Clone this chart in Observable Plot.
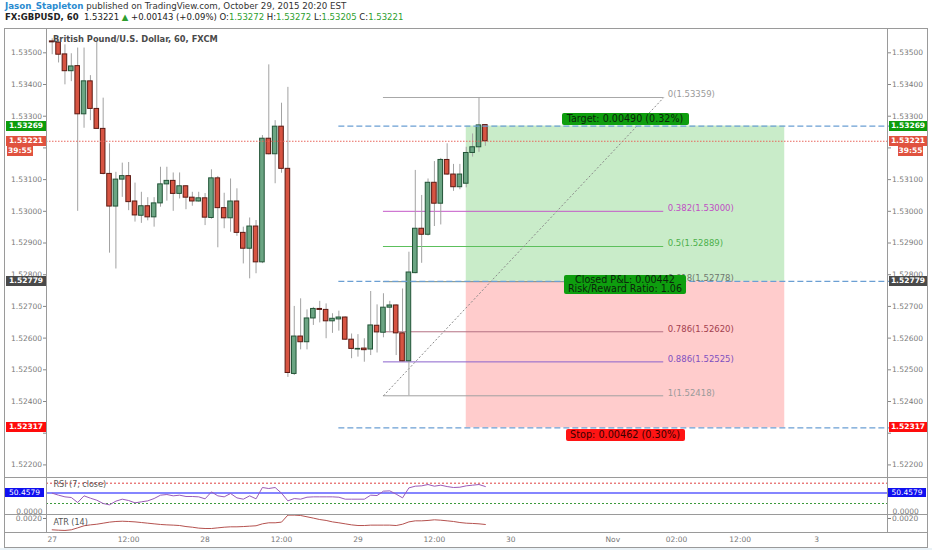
<!DOCTYPE html>
<html><head><meta charset="utf-8">
<script src="https://cdn.jsdelivr.net/npm/d3@7"></script>
<script src="https://cdn.jsdelivr.net/npm/@observablehq/plot@0.6"></script>
<style>
body{margin:0;background:#fff;font-family:"DejaVu Sans",sans-serif;}
#wrap{position:relative;width:932px;height:550px;overflow:hidden;background:#fff;}
.abs{position:absolute;white-space:nowrap;}
.hl{position:absolute;height:1px;background:#9a9a9a;}
.vl{position:absolute;width:1px;background:#9a9a9a;}
.box{position:absolute;white-space:nowrap;text-align:center;box-sizing:border-box;overflow:hidden;}
svg{position:absolute;left:0;}
</style></head><body><div id="wrap"></div>
<script>
// ---------- DATA ----------
const candleOpen  = [1.53536,1.53532,1.53495,1.53442,1.53458,1.53306,1.53410,1.53323,1.53260,1.53118,1.53015,1.53100,1.53111,1.53031,1.52986,1.53016,1.52981,1.53025,1.53085,1.53096,1.53055,1.53079,1.53043,1.53031,1.53041,1.52979,1.53104,1.53010,1.52978,1.53031,1.52932,1.52882,1.52952,1.52839,1.53229,1.53180,1.53267,1.53134,1.52487,1.52605,1.52587,1.52662,1.52692,1.52689,1.52653,1.52659,1.52665,1.52595,1.52564,1.52567,1.52564,1.52639,1.52617,1.52696,1.52703,1.52615,1.52527,1.52805,1.52945,1.52926,1.53090,1.53024,1.53162,1.53116,1.53076,1.53087,1.53184,1.53202,1.53272];
const candleHigh  = [1.53544,1.53536,1.53525,1.53497,1.53515,1.53515,1.53428,1.53533,1.53357,1.53213,1.53123,1.53152,1.53154,1.53089,1.53060,1.53043,1.53043,1.53139,1.53139,1.53121,1.53121,1.53081,1.53060,1.53060,1.53056,1.53131,1.53110,1.53057,1.53102,1.53071,1.52950,1.52979,1.52971,1.53239,1.53462,1.53286,1.53341,1.53391,1.52700,1.52724,1.52689,1.52697,1.52716,1.52708,1.52677,1.52685,1.52667,1.52613,1.52611,1.52598,1.52747,1.52705,1.52740,1.52716,1.52705,1.52755,1.52871,1.53129,1.53050,1.53102,1.53157,1.53167,1.53213,1.53148,1.53148,1.53202,1.53244,1.53359,1.53272];
const candleLow   = [1.53494,1.53468,1.53399,1.53409,1.53000,1.53262,1.53286,1.53260,1.53115,1.52868,1.52818,1.53044,1.53002,1.52966,1.52962,1.52970,1.52950,1.53013,1.53032,1.53000,1.53039,1.53005,1.53016,1.53029,1.52955,1.52975,1.52885,1.52945,1.52934,1.52921,1.52834,1.52787,1.52803,1.52835,1.53178,1.53087,1.53120,1.52476,1.52482,1.52563,1.52563,1.52640,1.52648,1.52598,1.52615,1.52622,1.52593,1.52535,1.52540,1.52524,1.52545,1.52553,1.52601,1.52617,1.52545,1.52525,1.52418,1.52803,1.52836,1.52922,1.52952,1.52957,1.53113,1.53063,1.53068,1.53074,1.53171,1.53186,1.53205];
const candleClose = [1.53533,1.53494,1.53442,1.53457,1.53306,1.53410,1.53323,1.53260,1.53118,1.53015,1.53100,1.53111,1.53029,1.52987,1.53016,1.52981,1.53025,1.53085,1.53096,1.53055,1.53079,1.53043,1.53031,1.53041,1.52980,1.53104,1.53010,1.52978,1.53031,1.52932,1.52882,1.52952,1.52839,1.53229,1.53180,1.53267,1.53134,1.52490,1.52605,1.52587,1.52662,1.52692,1.52689,1.52653,1.52661,1.52665,1.52595,1.52566,1.52566,1.52562,1.52640,1.52618,1.52696,1.52703,1.52615,1.52527,1.52807,1.52945,1.52926,1.53090,1.53024,1.53162,1.53116,1.53076,1.53116,1.53184,1.53202,1.53271,1.53221];
const rsiValues = [50.3,46.4,43.1,41.8,32.0,45.1,40.5,36.5,30.0,27.4,34.6,38.5,35.9,31.3,33.3,35.2,39.8,46.4,47.7,45.1,46.4,43.8,43.8,43.1,39.2,52.9,45.1,43.1,49.7,41.1,38.5,45.1,39.2,61.5,59.5,61.5,50.3,35.2,39.8,38.5,42.4,43.1,43.1,43.1,43.1,42.4,38.5,38.5,38.5,38.5,46.4,45.7,54.3,54.9,48.4,41.1,60.8,64.1,64.8,67.4,64.1,66.1,63.4,61.5,62.1,64.8,66.1,67.4,63.4];
const atrValues = [0.00113,0.00110,0.00108,0.00113,0.00128,0.00144,0.00151,0.00156,0.00164,0.00172,0.00177,0.00179,0.00177,0.00174,0.00169,0.00164,0.00159,0.00154,0.00151,0.00149,0.00146,0.00138,0.00133,0.00126,0.00123,0.00123,0.00128,0.00133,0.00136,0.00136,0.00138,0.00141,0.00144,0.00159,0.00167,0.00167,0.00172,0.00226,0.00226,0.00223,0.00213,0.00203,0.00192,0.00185,0.00174,0.00167,0.00159,0.00151,0.00146,0.00146,0.00149,0.00149,0.00149,0.00149,0.00146,0.00156,0.00174,0.00182,0.00182,0.00185,0.00190,0.00187,0.00182,0.00177,0.00169,0.00164,0.00162,0.00159,0.00154];
const xTickPos    = [0,12,24,36,48,60,72,88,98,108,120];
const xTickLabels = ["27","12:00","28","12:00","29","12:00","30","Nov","02:00","12:00","3"];
const priceTicks  = [1.522,1.523,1.524,1.525,1.526,1.527,1.528,1.529,1.530,1.531,1.532,1.533,1.534,1.535];
const fibRatios   = ["0","0.382","0.5","0.618","0.786","0.886","1"];
const fibPrices   = [1.53359,1.53000,1.52889,1.52778,1.52620,1.52525,1.52418];
const fibAnchors  = [52,96];          // bar positions of the fib tool
const positionBars = [65,115];        // long-position tool span
const levelLineStart = 45;            // start of the dashed horizontal levels
const targetPrice = 1.53269, entryPrice = 1.52779, stopPrice = 1.52317, lastPrice = 1.53221;
const rsiBands = [70,30], rsiMark = 50.4579, atrTick = [0.002];
const targetText = "Target: 0.00490 (0.32%)";
const pnlText = ["Closed P&amp;L: 0.00442","Risk/Reward Ratio: 1.06"];
const stopText = "Stop: 0.00462 (0.30%)";
const countdown = "39:55";

// ---------- STYLE ----------
const fibTextColors = ["#9a9a9a","#c04fc4","#4cb04c","#6f786f","#a3404f","#8050c0","#9a9a9a"];
const fibLineColors = ["#a8a8a8","#c45ac8","#5cc05c","#7a8a7a","#b57283","#8a62cc","#a0a0a0"];
const upFill="#6ba583", upStroke="#225437", dnFill="#d75442", dnStroke="#5b1a13", wick="#a2a2a2";
const font = "DejaVu Sans";

// ---------- LAYOUT ----------
const W = 932, mL = 46, mR = 45;
const xDomain = [-0.895, 131.13];
const mainTop = 28, mainH = 449, rsiTop = 477, rsiH = 37, atrTop = 514, atrPaneH = 18, axisH = 16;
const mainY = [1.521603, 1.535767];
const rsiY = [8.33, 81.23];
const atrY = [0.000923, 0.0023077];

const wrap = document.getElementById("wrap");
const candles = candleOpen.map((o,i)=>({i, o, h:candleHigh[i], l:candleLow[i], c:candleClose[i]}));
const fib = fibRatios.map((r,k)=>({r, p:fibPrices[k], tc:fibTextColors[k], lc:fibLineColors[k]}));
const baseStyle = {fontFamily:font, fontSize:"7.5px", color:"#7a7a7a", background:"transparent", overflow:"visible"};
// tick labels that sit fully under a price-label box are not shown (as in the reference)
const boxedLevels = [lastPrice, stopPrice];
const fmt5 = d3.format(".5f");
const priceTickFormat = d => boxedLevels.some(b => Math.abs(b - d) < 0.00025) ? "" : fmt5(d);

const main = Plot.plot({
  width: W, height: mainH, marginLeft: mL, marginRight: mR, marginTop: 0, marginBottom: 0,
  x: {domain: xDomain, axis: null},
  y: {domain: mainY, axis: null},
  color: {type: "identity"},
  style: baseStyle,
  marks: [
    Plot.rect([{a:positionBars[0], b:positionBars[1], lo:entryPrice, hi:targetPrice}], {x1:"a", x2:"b", y1:"lo", y2:"hi", fill:"#c9ecc9"}),
    Plot.rect([{a:positionBars[0], b:positionBars[1], lo:stopPrice, hi:entryPrice}], {x1:"a", x2:"b", y1:"lo", y2:"hi", fill:"#ffcccc"}),
    Plot.ruleY(fib, {y:"p", x1:fibAnchors[0], x2:fibAnchors[1], stroke:"lc", strokeWidth:1}),
    Plot.link([{a:fibAnchors[0], b:fibAnchors[1], p0:fibPrices[6], p1:fibPrices[0]}], {x1:"a", y1:"p0", x2:"b", y2:"p1", stroke:"#8a8a8a", strokeDasharray:"2,2"}),
    Plot.ruleX(candles, {x:"i", y1:"l", y2:"h", stroke:wick, strokeWidth:1}),
    Plot.rect(candles, {x1:d=>d.i-0.36, x2:d=>d.i+0.36, y1:d=>Math.min(d.o,d.c), y2:d=>Math.max(d.o,d.c),
      fill:d=>d.c>=d.o?upFill:dnFill, stroke:d=>d.c>=d.o?upStroke:dnStroke, strokeWidth:1}),
    Plot.ruleY([targetPrice, entryPrice, stopPrice], {x1:levelLineStart, x2:xDomain[1]+6, stroke:"#6b9fd3", strokeWidth:1.3, strokeDasharray:"6,3", clip:false}),
    Plot.ruleY([lastPrice], {stroke:"#e8655c", strokeDasharray:"1.5,1.5"}),
    Plot.text(fib, {x:fibAnchors[1], y:"p", text:d=>`${d.r}(${d.p.toFixed(5)})`, textAnchor:"start", dx:4, dy:-3, fill:"tc", fontSize:8.5}),
    Plot.axisY({anchor:"right", ticks:priceTicks, tickFormat:priceTickFormat, tickSize:3, tickPadding:1.5, label:null, stroke:"#888"}),
    Plot.axisY({anchor:"left", ticks:priceTicks, tickFormat:priceTickFormat, tickSize:3, tickPadding:1.5, label:null, stroke:"#888"})
  ]
});
main.style.top = mainTop + "px";
wrap.appendChild(main);

const rsiPlot = Plot.plot({
  width: W, height: rsiH, marginLeft: mL, marginRight: mR, marginTop: 0, marginBottom: 0,
  x: {domain: xDomain, axis: null},
  y: {domain: rsiY, axis: null},
  style: baseStyle,
  marks: [
    Plot.ruleY([rsiBands[0]], {stroke:"#e04040", strokeDasharray:"2,2"}),
    Plot.ruleY([rsiBands[1]], {stroke:"#3c9a3c", strokeDasharray:"2,2"}),
    Plot.ruleY([rsiMark], {stroke:"#8585ff", strokeWidth:2}),
    Plot.line(rsiValues, {x:(d,i)=>i, y:d=>d, stroke:"#9a5cb8", strokeWidth:1}),
    Plot.text(["RSI (7, close)"], {frameAnchor:"top-left", dx:7, dy:4, textAnchor:"start", fill:"#555", fontSize:8}),
    Plot.text(["0.0000"], {frameAnchor:"bottom-left", dx:-4, dy:-1, textAnchor:"end", fill:"#777"}),
    Plot.text(["0.0000"], {frameAnchor:"bottom-right", dx:5, dy:-1, textAnchor:"start", fill:"#777"})
  ]
});
rsiPlot.style.top = rsiTop + "px";
wrap.appendChild(rsiPlot);

const atrPlot = Plot.plot({
  width: W, height: atrPaneH + axisH, marginLeft: mL, marginRight: mR, marginTop: 0, marginBottom: axisH,
  x: {domain: xDomain},
  y: {domain: atrY},
  style: baseStyle,
  marks: [
    Plot.line(atrValues, {x:(d,i)=>i, y:d=>d, stroke:"#b5524f", strokeWidth:1}),
    Plot.text(["ATR (14)"], {frameAnchor:"top-left", dx:7, dy:5, textAnchor:"start", fill:"#555", fontSize:8}),
    Plot.axisY({anchor:"right", ticks:atrTick, tickFormat:d3.format(".4f"), tickSize:3, tickPadding:1.5, label:null}),
    Plot.axisY({anchor:"left", ticks:atrTick, tickFormat:d3.format(".4f"), tickSize:3, tickPadding:1.5, label:null}),
    Plot.axisX({ticks:xTickPos, tickFormat:(d,i)=>xTickLabels[i], tickSize:0, tickPadding:4, label:null, fill:"#777"})
  ]
});
atrPlot.style.top = atrTop + "px";
wrap.appendChild(atrPlot);

// ---------- overlays positioned by Plot scales ----------
const sx = main.scale("x"), sy = main.scale("y"), sr = rsiPlot.scale("y");
const py = p => mainTop + sy.apply(p);
function box(text, left, top, w, h, bg, color, opts={}){
  const d = document.createElement("div");
  d.className = "box";
  d.style.cssText += `left:${left}px;top:${top}px;width:${w}px;height:${h}px;background:${bg};color:${color};font-size:${opts.fs||7.5}px;line-height:${opts.lh||h}px;border-radius:${opts.r||0}px;font-weight:${opts.fw||"normal"}`;
  d.innerHTML = text;
  wrap.appendChild(d);
}
const cx = sx.apply((positionBars[0]+positionBars[1])/2);
box(targetText, cx-63.5, py(targetPrice)-13, 127, 12.5, "#0e9e0e", "#0b260b", {fs:9.6, r:2});
box(pnlText.join("<br>"), cx-61, py(entryPrice)-6, 122, 19.5, "#0e9e0e", "#0b260b", {fs:9.6, lh:9.2, r:2});
box(stopText, cx-59.5, py(stopPrice)+2, 119, 11.5, "#ff1414", "#3a0000", {fs:9.7, r:2});

// axis price labels
const axisLabels = [
  {p:targetPrice, t:targetPrice.toFixed(5), bg:"#0c9c0c"},
  {p:lastPrice, t:lastPrice.toFixed(5), bg:"#e0523f"},
  {p:entryPrice, t:entryPrice.toFixed(5), bg:"#4a4a4a"},
  {p:stopPrice, t:stopPrice.toFixed(5), bg:"#ff0c0c"}
];
axisLabels.forEach(a=>{
  box(a.t, W-mR+2, py(a.p)-5, 38, 10, a.bg, "#fff", {fs:7.5, fw:"bold"});
  box(a.t, 6, py(a.p)-5, 40, 10, a.bg, "#fff", {fs:7.5, fw:"bold"});
});
box(countdown, W-mR+11, py(lastPrice)+5.5, 25, 9.5, "#e0523f", "#fff", {fs:7.5, fw:"bold"});
box(countdown, 7, py(lastPrice)+5.5, 26, 9.5, "#e0523f", "#fff", {fs:7.5, fw:"bold"});
box(rsiMark.toFixed(4), W-mR+1, rsiTop+sr.apply(rsiMark)-4.5, 38, 9, "#1010f0", "#fff", {fs:7.5});
box(rsiMark.toFixed(4), 5, rsiTop+sr.apply(rsiMark)-4.5, 39, 9, "#1010f0", "#fff", {fs:7.5});

// ---------- frame & chrome ----------
function hl(x,y,w,c){const d=document.createElement("div");d.className="hl";d.style.cssText+=`left:${x}px;top:${y}px;width:${w}px;${c?"background:"+c:""}`;wrap.appendChild(d);}
function vl(x,y,h,c){const d=document.createElement("div");d.className="vl";d.style.cssText+=`left:${x}px;top:${y}px;height:${h}px;${c?"background:"+c:""}`;wrap.appendChild(d);}
hl(4, mainTop, 924); hl(4, rsiTop, 924); hl(4, atrTop, 924); hl(4, atrTop+atrPaneH, 924); hl(4, 547, 924);
vl(4, mainTop, 519); vl(927, mainTop, 519); vl(mL, mainTop, rsiTop-mainTop+rsiH+atrPaneH); vl(W-mR, mainTop, rsiTop-mainTop+rsiH+atrPaneH);
const strip=document.createElement("div");strip.className="abs";strip.style.cssText+="left:0;top:548px;width:932px;height:2px;background:#eaf2f7";wrap.appendChild(strip);

// header
function txt(html, x, y, fs, color, extra=""){const d=document.createElement("div");d.className="abs";d.style.cssText+=`left:${x}px;top:${y}px;font-size:${fs}px;color:${color};${extra}`;d.innerHTML=html;wrap.appendChild(d);}
txt('<span style="color:#2a8bd0;font-weight:bold">Jason_Stapleton</span> published on TradingView.com, October 29, 2015 20:20 EST', 5, 0.5, 8.7, "#333");
const g = s=>`<span style="color:#2e9e2e">${s}</span>`;
txt(`<b>FX:GBPUSD, 60</b>&nbsp; 1.53221 ${g("▲")} +0.00143 (+0.09%) O:${g("1.53272")} H:${g("1.53272")} L:${g("1.53205")} C:${g("1.53221")}`, 5, 12, 8.5, "#222");
txt("British Pound/U.S. Dollar, 60, FXCM", 53, 34, 8.3, "#4a4a4a", "font-weight:600");
</script></body></html>
